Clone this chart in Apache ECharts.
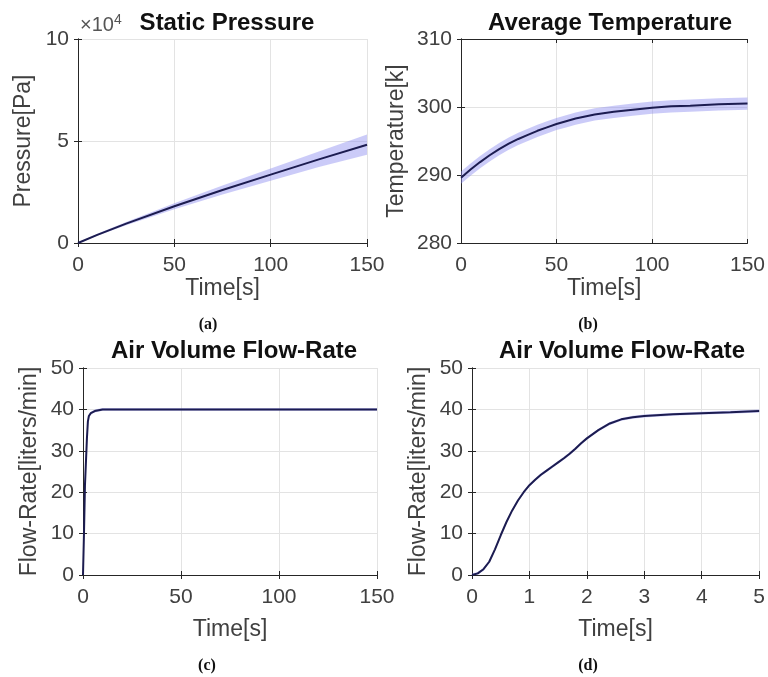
<!DOCTYPE html>
<html>
<head>
<meta charset="utf-8">
<script src="https://cdn.jsdelivr.net/npm/echarts@6/dist/echarts.min.js"></script>
<style>
  html, body { margin: 0; padding: 0; background: #fff; }
  #main { width: 768px; height: 677px; }
</style>
</head>
<body>
<div id="main"></div>
<script>
var dom = document.getElementById("main");
var chart = echarts.init(dom);

// (a) static pressure, in units of 1e4 Pa
var pressTime = [0, 10, 25, 50, 75, 100, 125, 150];
var pressMean = [0, 0.4, 0.95, 1.8, 2.6, 3.35, 4.1, 4.82];
var pressHalf = [0.02, 0.05, 0.08, 0.15, 0.22, 0.3, 0.38, 0.5];

// (b) average temperature [K]
var tempTime = [0, 5, 10, 15, 20, 25, 30, 35, 40, 45, 50, 55, 60, 70, 80, 90, 100, 110, 120, 135, 150];
var tempMean = [289.6, 290.8, 291.9, 292.9, 293.8, 294.6, 295.3, 295.9, 296.5, 297.0, 297.5, 297.9, 298.3, 298.9, 299.3, 299.6, 299.9, 300.1, 300.2, 300.4, 300.5];
var tempHalf = 0.9;

// (c) flow rate over full run [liters/min]
var flowTime = [0, 0.5, 1, 1.5, 2, 2.5, 3, 4, 6, 10, 150];
var flowMean = [0, 10, 21.7, 27.3, 33, 37.1, 38.4, 39.1, 39.6, 40, 40];

// (d) flow rate, first 5 s
var startTime = [0, 0.1, 0.2, 0.3, 0.4, 0.5, 0.6, 0.7, 0.8, 0.9, 1.0, 1.1, 1.2, 1.3, 1.4, 1.5, 1.6, 1.7, 1.8, 1.9, 2.0, 2.2, 2.4, 2.6, 2.8, 3.0, 3.5, 4.0, 4.5, 5.0];
var startMean = [0, 0.4, 1.4, 3.2, 6.2, 9.6, 12.8, 15.6, 18.0, 20.0, 21.7, 23.0, 24.2, 25.2, 26.2, 27.2, 28.2, 29.3, 30.5, 31.8, 33.0, 35.0, 36.6, 37.6, 38.1, 38.4, 38.8, 39.1, 39.3, 39.6];
var flowHalf = 0.35;

var ink = "#262626";
var lineColor = "#1c1c50";
var bandColor = "rgba(140, 140, 240, 0.45)";
var sans = "Liberation Sans";

var grids = [
  { left: 78, top: 39, width: 289, height: 204 },
  { left: 461, top: 39, width: 290, height: 204 },
  { left: 83, top: 368, width: 294, height: 207 },
  { left: 472, top: 368, width: 293, height: 207 }
];

var xSpecs = [
  { min: 0, max: 150, interval: 50, gap: 33 },
  { min: 0, max: 150, interval: 50, gap: 33 },
  { min: 0, max: 150, interval: 50, gap: 43 },
  { min: 0, max: 5, interval: 1, gap: 43 }
];
var ySpecs = [
  { min: 0, max: 10, interval: 5, name: "Pressure[Pa]", gap: 43 },
  { min: 280, max: 310, interval: 10, name: "Temperature[k]", gap: 53 },
  { min: 0, max: 50, interval: 10, name: "Flow-Rate[liters/min]", gap: 42 },
  { min: 0, max: 50, interval: 10, name: "Flow-Rate[liters/min]", gap: 42 }
];

var xAxes = [];
var yAxes = [];
grids.forEach(function (g, i) {
  var xs = xSpecs[i];
  var ys = ySpecs[i];
  xAxes.push({
    type: "value", gridIndex: i, min: xs.min, max: xs.max, interval: xs.interval,
    name: "Time[s]", nameLocation: "middle", nameGap: xs.gap,
    nameTextStyle: { fontFamily: sans, fontSize: 23, color: "#404040" },
    axisLine: { lineStyle: { color: ink } },
    axisTick: { inside: true, length: 4, lineStyle: { color: ink } },
    axisLabel: { fontFamily: sans, fontSize: 21, color: "#404040", margin: 12 },
    splitLine: { show: true, lineStyle: { color: "#e3e3e3" } }
  });
  xAxes.push({
    type: "value", gridIndex: i, position: "top", min: xs.min, max: xs.max, interval: xs.interval,
    axisLine: { lineStyle: { color: ink } },
    axisTick: { inside: true, length: 4, lineStyle: { color: ink } },
    axisLabel: { show: false }, splitLine: { show: false }
  });
  yAxes.push({
    type: "value", gridIndex: i, min: ys.min, max: ys.max, interval: ys.interval,
    name: ys.name, nameLocation: "middle", nameGap: ys.gap,
    nameTextStyle: { fontFamily: sans, fontSize: 23, color: "#404040" },
    axisLine: { show: true, lineStyle: { color: ink } },
    axisTick: { show: true, inside: true, length: 4, lineStyle: { color: ink } },
    axisLabel: { fontFamily: sans, fontSize: 21, color: "#404040", margin: 9 },
    splitLine: { show: true, lineStyle: { color: "#e3e3e3" } }
  });
  yAxes.push({
    type: "value", gridIndex: i, position: "right", min: ys.min, max: ys.max, interval: ys.interval,
    axisLine: { show: true, lineStyle: { color: ink } },
    axisTick: { show: true, inside: true, length: 4, lineStyle: { color: ink } },
    axisLabel: { show: false }, splitLine: { show: false }
  });
});

function pairs(xs, ys) {
  return xs.map(function (x, k) { return [x, ys[k]]; });
}

// confidence band drawn as one polygon through the axis scales
function bandSeries(idx, xs, mean, half) {
  var h = function (k) { return Array.isArray(half) ? half[k] : half; };
  var rows = xs.map(function (x, k) { return [x, mean[k] - h(k), mean[k] + h(k)]; });
  return {
    type: "custom", xAxisIndex: idx * 2, yAxisIndex: idx * 2, data: rows,
    silent: true, animation: false, clip: true, z: 1,
    encode: { x: 0, y: [1, 2] },
    renderItem: function (params, api) {
      if (params.dataIndex !== 0) return;
      var top = rows.map(function (r) { return api.coord([r[0], r[2]]); });
      var bottom = rows.map(function (r) { return api.coord([r[0], r[1]]); }).reverse();
      return {
        type: "polygon",
        shape: { points: top.concat(bottom) },
        style: { fill: bandColor, stroke: null }
      };
    }
  };
}

function meanSeries(idx, xs, mean) {
  return {
    type: "line", xAxisIndex: idx * 2, yAxisIndex: idx * 2, data: pairs(xs, mean),
    symbol: "none", smooth: false, animation: false, z: 3,
    lineStyle: { color: lineColor, width: 2 }
  };
}

var series = [
  bandSeries(0, pressTime, pressMean, pressHalf), meanSeries(0, pressTime, pressMean),
  bandSeries(1, tempTime, tempMean, tempHalf), meanSeries(1, tempTime, tempMean),
  bandSeries(2, flowTime, flowMean, flowHalf), meanSeries(2, flowTime, flowMean),
  bandSeries(3, startTime, startMean, flowHalf), meanSeries(3, startTime, startMean)
];

var titleStyle = { fontFamily: sans, fontSize: 24, fontWeight: "bold", color: "#111" };
var captionStyle = { fontFamily: "Liberation Serif", fontSize: 16, fontWeight: "bold", fill: "#111" };

chart.setOption({
  animation: false,
  grid: grids,
  xAxis: xAxes,
  yAxis: yAxes,
  series: series,
  title: [
    { text: "Static Pressure", left: 222, top: 6, textAlign: "center", textStyle: titleStyle },
    { text: "Average Temperature", left: 605, top: 6, textAlign: "center", textStyle: titleStyle },
    { text: "Air Volume Flow-Rate", left: 229, top: 334, textAlign: "center", textStyle: titleStyle },
    { text: "Air Volume Flow-Rate", left: 617, top: 334, textAlign: "center", textStyle: titleStyle }
  ],
  graphic: [
    {
      type: "text", left: 80, top: 13,
      style: {
        text: "×10{s|4}", fontFamily: sans, fontSize: 20, fill: "#555",
        rich: { s: { fontFamily: sans, fontSize: 14, fill: "#555", verticalAlign: "top", padding: [0, 0, 10, 0] } }
      }
    },
    { type: "text", x: 208, y: 325, style: Object.assign({ text: "(a)", align: "center", verticalAlign: "middle" }, captionStyle) },
    { type: "text", x: 588, y: 325, style: Object.assign({ text: "(b)", align: "center", verticalAlign: "middle" }, captionStyle) },
    { type: "text", x: 207, y: 666, style: Object.assign({ text: "(c)", align: "center", verticalAlign: "middle" }, captionStyle) },
    { type: "text", x: 588, y: 666, style: Object.assign({ text: "(d)", align: "center", verticalAlign: "middle" }, captionStyle) }
  ]
});
</script>
</body>
</html>
